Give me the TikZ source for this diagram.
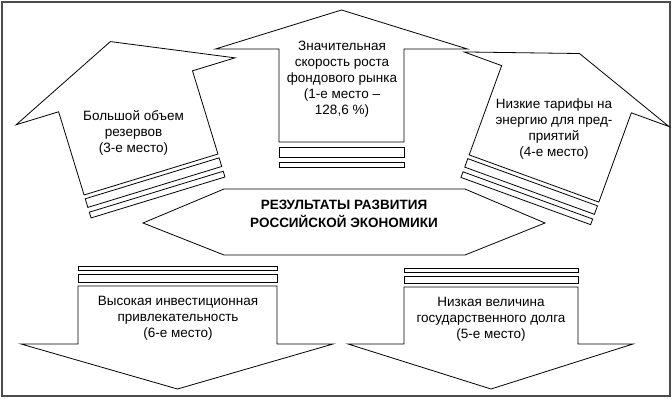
\documentclass[tikz,border=0pt]{standalone}
\usepackage{fontspec}
\setmainfont{Liberation Sans}
\begin{document}
\begin{tikzpicture}[x=1pt,y=1pt,
  arrowbody/.style={draw=black, fill=white, line width=0.8pt, line join=miter},
  txt/.style={align=center, font=\fontsize{13.5}{16}\selectfont, inner sep=0pt},
  boldtxt/.style={align=center, font=\fontsize{13.5}{18}\selectfont\bfseries, inner sep=0pt}]
\useasboundingbox (0,0) rectangle (672,-401);
\draw[fill=white, draw=black!70, line width=1.5pt] (2,-2) rectangle (670,-396);

% top-left arrow
\begin{scope}[shift={(151,-174.5)}, rotate=17]
\draw[arrowbody] (-70,0) -- (-70,87) -- (-114.4,87) -- (0,139) -- (114.4,87) -- (70,87) -- (70,0) -- cycle;
\draw[arrowbody] (-70,-4) rectangle (70,-13);
\draw[arrowbody] (-70,-18) rectangle (70,-24);
\end{scope}

% top-middle arrow
\begin{scope}[shift={(341.5,-142)}]
\draw[arrowbody] (-62.5,0) -- (-62.5,93) -- (-126,93) -- (0,132) -- (126,93) -- (62.5,93) -- (62.5,0) -- cycle;
\draw[arrowbody] (-62.5,-5) rectangle (62.5,-15);
\draw[arrowbody] (-62.5,-20) rectangle (62.5,-25);
\end{scope}

% top-right arrow
\begin{scope}[shift={(534,-178.5)}, rotate=-20]
\draw[arrowbody] (-69,0) -- (-69,95) -- (-109,95) -- (0,133) -- (109,95) -- (69,95) -- (69,0) -- cycle;
\draw[arrowbody] (-69,-4) rectangle (69,-13);
\draw[arrowbody] (-69,-18) rectangle (69,-24);
\end{scope}

% central double arrow
\draw[arrowbody] (143,-223) -- (224,-189) -- (465,-189) -- (545,-223) -- (465,-255) -- (224,-255) -- cycle;

% bottom-left arrow
\draw[arrowbody] (78,-266) rectangle (277,-270);
\draw[arrowbody] (78,-274) rectangle (277,-282);
\draw[arrowbody] (78,-286) -- (277,-286) -- (277,-344) -- (333,-344) -- (177.5,-389) -- (21,-344) -- (78,-344) -- cycle;

% bottom-right arrow
\draw[arrowbody] (404,-268) rectangle (578,-272);
\draw[arrowbody] (404,-276) rectangle (578,-283);
\draw[arrowbody] (404,-287) -- (578,-287) -- (578,-344) -- (633,-344) -- (491,-389) -- (348,-344) -- (404,-344) -- cycle;

% texts
\node[txt] (t1) at (133.5,-133) {Большой объем\\резервов\\(3-е место)};
\node[txt] (t2) at (342,-79) {Значительная\\скорость роста\\фондового рынка\\(1-е место –\\128,6 \%)};
\node[txt] (t3) at (554,-129.5) {Низкие тарифы на\\энергию для пред-\\приятий\\(4-е место)};
\node[boldtxt] (t0) at (344,-214) {РЕЗУЛЬТАТЫ РАЗВИТИЯ\\РОССИЙСКОЙ ЭКОНОМИКИ};
\node[txt] (t4) at (178,-318.5) {Высокая инвестиционная\\привлекательность\\(6-е место)};
\node[txt] (t5) at (491,-319.5) {Низкая величина\\государственного долга\\(5-е место)};
\end{tikzpicture}
\end{document}
